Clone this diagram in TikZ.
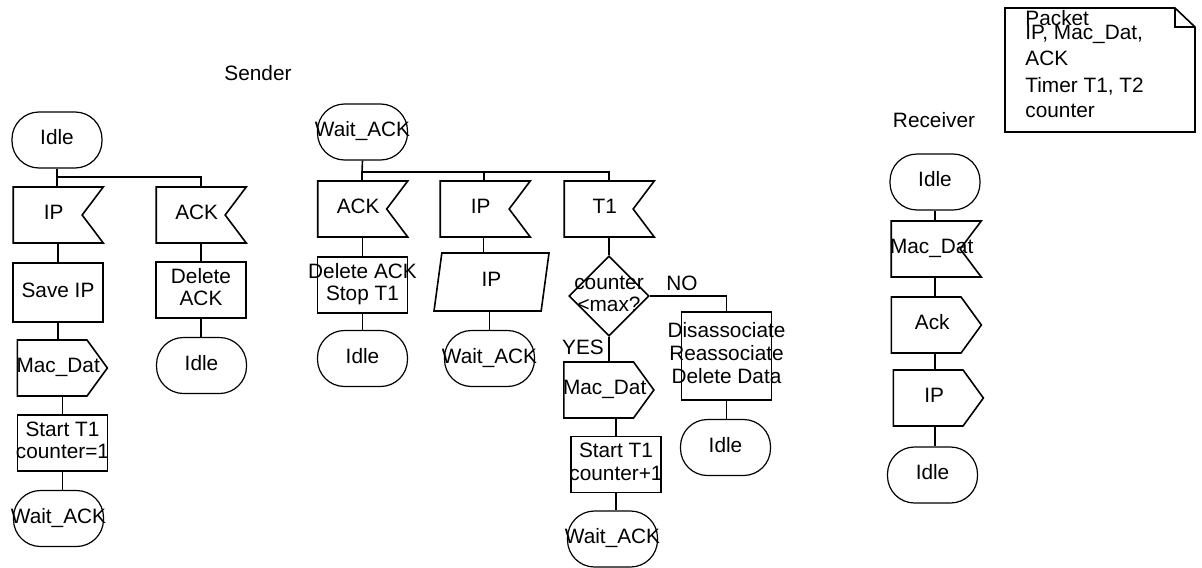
\documentclass[tikz,border=0pt]{standalone}
\usepackage{fontspec}
\setmainfont{Liberation Sans}
\usetikzlibrary{shapes.geometric,shapes.symbols}

% text that may run over the symbol's edge
\newcommand{\mtxt}[1]{\makebox[0pt]{\renewcommand{\arraystretch}{0.95}\begin{tabular}{@{}c@{}}#1\end{tabular}}}

\tikzset{
  sdl/.style={draw, line width=0.8pt, inner sep=0pt, font=\fontsize{10.4}{12}\selectfont},
  term/.style={sdl, rectangle, rounded corners=13.5pt, line width=0.6pt, minimum width=45pt, minimum height=28pt},
  task/.style={sdl, rectangle, minimum width=45pt, minimum height=28pt},
  sig/.style={sdl, signal, minimum width=45pt, minimum height=28pt, xshift=-5.15pt,
    execute at begin node={\hspace*{6pt}}},
  inp/.style={sig, signal to=nowhere, signal from=east, signal pointer angle=106},
  outp/.style={sig, signal to=east, signal pointer angle=108},
  dec/.style={sdl, diamond, minimum width=40pt, minimum height=40pt},
  slant/.style={sdl, trapezium, trapezium left angle=71, trapezium right angle=109, trapezium stretches body, minimum width=57.5pt, minimum height=29pt},
  lbl/.style={inner sep=0pt, font=\fontsize{10.4}{12}\selectfont},
  wire/.style={line width=0.8pt}
}

\begin{document}
\begin{tikzpicture}[x=0.5pt, y=-0.5pt]
  \useasboundingbox (0,0) rectangle (1202,567);

  % Sender
  \node[lbl] (sender) at (258,73) {Sender};
  \coordinate (jA) at (57,177);
  \coordinate (jB) at (362,172);

  \node[term] (idleA) at (57,140) {\mtxt{Idle}};
  \node[inp] (ipA) at (58,215) {\mtxt{IP}};
  \node[task, minimum height=29.5pt] (saveA) at (58,292.5) {\mtxt{Save IP}};
  \node[outp] (macA) at (62.5,368) {\mtxt{Mac\_Dat}};
  \node[task] (startA) at (62.5,443) {\mtxt{Start T1\\counter=1}};
  \node[term] (waitA) at (58.5,518.5) {\mtxt{Wait\_ACK}};
  \node[inp] (ackA) at (201,215) {\mtxt{ACK}};
  \node[task] (delA) at (201,290) {\mtxt{Delete\\ACK}};
  \node[term] (idleB) at (201.5,365.5) {\mtxt{Idle}};

  \begin{scope}[wire]
    \draw (idleA.south) -- (jA) -| ([xshift=5.15pt]ackA.north);
    \draw (jA) -- (jA |- ipA.north);
    \draw (saveA.north |- ipA.south) -- (saveA.north);
    \draw (saveA.south) -- (saveA.south |- macA.north);
    \draw (startA.north |- macA.south) -- (startA.north);
    \draw (startA.south) -- (startA.south |- waitA.north);
    \draw (delA.north |- ackA.south) -- (delA.north);
    \draw (delA.south) -- (delA.south |- idleB.north);
  \end{scope}

  \node[term] (waitB) at (362.5,132) {\mtxt{Wait\_ACK}};
  \node[inp] (ackB) at (362.5,209) {\mtxt{ACK}};
  \node[inp] (ipB) at (485,209) {\mtxt{IP}};
  \node[inp] (t1B) at (609,209) {\mtxt{T1}};
  \node[task] (delB) at (362.5,285) {\mtxt{Delete ACK\\Stop T1}};
  \node[term] (idleC) at (362.5,358.5) {\mtxt{Idle}};
  \node[slant] (ipT) at (491.5,282) {\mtxt{IP}};
  \node[term] (waitC) at (489.5,358.5) {\mtxt{Wait\_ACK}};
  \node[dec] (decB) at (609,296) {\mtxt{counter\\<max?}};
  \node[outp] (macB) at (609,390) {\mtxt{Mac\_Dat}};
  \node[task] (startB) at (616,464.5) {\mtxt{Start T1\\counter+1}};
  \node[term] (waitD) at (612.5,539) {\mtxt{Wait\_ACK}};
  \node[task, minimum height=44pt] (disB) at (726.5,356) {\mtxt{Disassociate\\Reassociate\\Delete Data}};
  \node[term] (idleD) at (725.5,447.5) {\mtxt{Idle}};
  \node[lbl] (noL) at (682,283) {NO};
  \node[lbl] (yesL) at (583,347) {YES};

  \begin{scope}[wire]
    \draw (waitB.south) -- (jB) -| ([xshift=5.15pt]t1B.north);
    \draw (jB) -- (jB |- ackB.north);
    \draw ([xshift=4.65pt]ipB.north) -- ([xshift=4.65pt]ipB.north |- jB);
    \draw (delB.north |- ackB.south) -- (delB.north);
    \draw (delB.south) -- (delB.south |- idleC.north);
    \draw ([xshift=-4pt]ipT.north) -- ([xshift=-4pt]ipT.north |- ipB.south);
    \draw ([xshift=-1pt]ipT.south) -- ([xshift=-1pt]ipT.south |- waitC.north);
    \draw (decB.north |- t1B.south) -- (decB.north);
    \draw (decB.east) -| (disB.north);
    \draw (decB.south) -- (decB.south |- macB.north);
    \draw (startB.north |- macB.south) -- (startB.north);
    \draw (startB.south) -- (startB.south |- waitD.north);
    \draw (disB.south) -- (disB.south |- idleD.north);
  \end{scope}

  % Receiver
  \node[lbl] (receiver) at (934,120) {Receiver};
  \node[term] (idleR) at (935,182) {\mtxt{Idle}};
  \node[inp] (macR) at (936,249) {\mtxt{Mac\_Dat}};
  \node[outp] (ackR) at (936.5,325) {\mtxt{Ack}};
  \node[outp] (ipR) at (938.5,398) {\mtxt{IP}};
  \node[term] (idleS) at (932.5,475) {\mtxt{Idle}};

  \begin{scope}[wire]
    \draw (idleR.south) -- (idleR.south |- macR.north);
    \draw (macR.south -| idleR) -- (ackR.north -| idleR);
    \draw (ackR.south -| idleR) -- (ipR.north -| idleR);
    \draw (ipR.south -| idleR) -- (idleR |- idleS.north);
  \end{scope}

  % declarations
  \draw[wire] (1005,8) -- (1175,8) -- (1195,27) -- (1195,132) -- (1005,132) -- cycle;
  \draw[wire] (1175,8) -- (1175,27) -- (1195,27);
  \node[lbl, anchor=base west] (pkt) at (1025,26) {Packet};
  \foreach \txt [count=\i] in {{IP, Mac\_Dat,},ACK,{Timer T1, T2},counter}
    \node[lbl, anchor=base west] (pkt\i) at (1025,{40+26*(\i-1)}) {\txt};
\end{tikzpicture}
\end{document}
